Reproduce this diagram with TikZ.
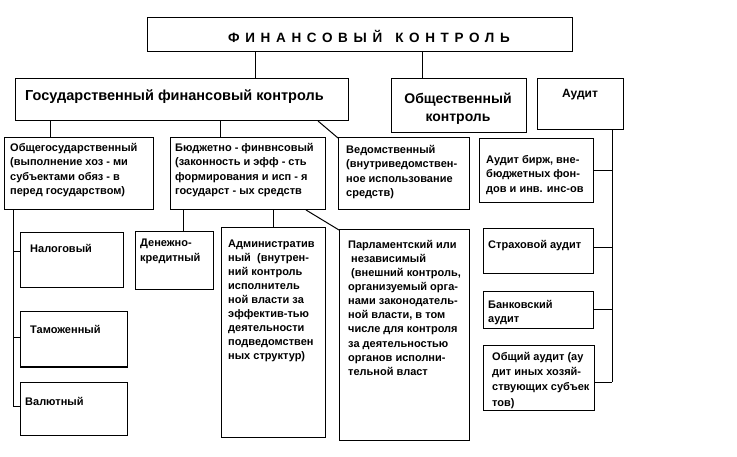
\documentclass[tikz,border=0pt]{standalone}
\usepackage{fontspec}
\setmainfont{Liberation Sans}
\newfontfamily\spacedfont[LetterSpace=42]{Liberation Sans}
\usetikzlibrary{calc}
\newcommand\mkbox[5]{\node[bx,minimum width={#4-#2},minimum height={#5-#3}] (#1) at (#2,#3) {};}
\begin{document}
\begin{tikzpicture}[x=1pt,y=-1pt,
  bx/.style={draw, line width=1pt, inner sep=0pt, outer sep=0pt, anchor=north west},
  tx/.style={inner sep=0pt, anchor=north west, align=left, font=\bfseries\fontsize{11}{14.5}\selectfont},
  ln/.style={line width=1pt}]
\useasboundingbox[fill=white] (0,0) rectangle (737,457);
% boxes
\mkbox{title}{147}{18}{572}{52}
\mkbox{gov}{15}{79}{348}{121}
\mkbox{obsh}{391}{79}{526}{133}
\mkbox{aud}{537}{79}{623}{130}
\mkbox{og}{4}{138}{153}{210}
\mkbox{bud}{170}{138}{325}{210}
\mkbox{ved}{338}{138}{469}{210}
\mkbox{ab}{479}{139}{593}{203}
\mkbox{nal}{20}{233}{123}{288}
\mkbox{tam}{20}{312}{127}{367}
\mkbox{val}{20}{382}{127}{435}
\mkbox{den}{135}{232}{213}{290}
\mkbox{adm}{221}{228}{325}{437}
\mkbox{par}{339}{230}{469}{440}
\mkbox{str}{483}{229}{593}{274}
\mkbox{bank}{483}{292}{593}{329}
\mkbox{ob}{483}{346}{594}{410}
% texts
\node[inner sep=0pt, font=\spacedfont\bfseries\fontsize{13.5}{15}\selectfont] (ttitle) at (369,36) {ФИНАНСОВЫЙ\hspace{13pt}КОНТРОЛЬ};
\node[inner sep=0pt, anchor=west, font=\bfseries\fontsize{14.5}{16}\selectfont] (tgov) at (25,97) {Государственный финансовый контроль};
\node[inner sep=0pt, align=center, font=\bfseries\fontsize{14}{18}\selectfont] (tobsh) at (458,109) {Общественный\\контроль};
\node[inner sep=0pt, font=\bfseries\fontsize{12}{14}\selectfont] (taud) at (580,95) {Аудит};
\node[tx] (tog) at (10,143) {Общегосударственный\\(выполнение хоз - ми\\субъектами обяз - в\\перед государством)};
\node[tx] (tbud) at (175,143) {Бюджетно - финвнсовый\\(законность и эфф - сть\\формирования и исп - я\\государст - ых средств};
\node[tx] (tved) at (346,145) {Ведомственный\\(внутриведомствен-\\ное использование\\средств)};
\node[tx] (tab) at (486,155) {Аудит бирж, вне-\\бюджетных фон-\\дов и инв. инс-ов};
\node[tx] (tnal) at (30,244) {Налоговый};
\node[tx] (ttam) at (30,325) {Таможенный};
\node[tx] (tval) at (25,397) {Валютный};
\node[tx] (tden) at (140,239) {Денежно-\\кредитный};
\node[tx, font=\bfseries\fontsize{11}{14}\selectfont] (tadm) at (228,240) {Административ\\ный\ \ (внутрен-\\ний контроль\\исполнитель\\ной власти за\\эффектив-тью\\деятельности\\подведомствен\\ных структур)};
\node[tx, font=\bfseries\fontsize{11}{14.1}\selectfont] (tpar) at (348,240) {Парламентский или\\\hspace*{3pt}независимый\\\hspace*{3pt}(внешний контроль,\\организуемый орга-\\нами законодатель-\\ной власти, в том\\числе для контроля\\за деятельностью\\органов исполни-\\тельной власт};
\node[tx] (tstr) at (488,240) {Страховой аудит};
\node[tx] (tbank) at (488,300) {Банковский\\аудит};
\node[tx, font=\bfseries\fontsize{11}{15.3}\selectfont] (tob) at (492,352) {Общий аудит (ау\\дит иных хозяй-\\ствующих субъек\\тов)};
% connectors
\draw[ln] (255,0 |- title.south) -- (255,0 |- gov.north);
\draw[ln] (422,0 |- title.south) -- (422,0 |- obsh.north);
\draw[ln] (50,0 |- gov.south) -- (50,0 |- og.north);
\draw[ln] (220,0 |- gov.south) -- (220,0 |- bud.north);
\draw[ln] (318,0 |- gov.south) -- (ved.north west);
\draw[ln] (183,0 |- bud.south) -- (183,0 |- den.north);
\draw[ln] (273,0 |- bud.south) -- (273,0 |- adm.north);
\draw[ln] (306,0 |- bud.south) -- (par.north west);
\coordinate (lbus) at (13,0);
\draw[ln] (lbus |- og.south) -- (13,406);
\draw[ln] (13,252) -- (nal.west |- 0,252);
\draw[ln] (13,338) -- (tam.west |- 0,338);
\draw[ln] (13,406) -- (val.west |- 0,406);
\coordinate (rbus) at (612,0);
\draw[ln] (rbus |- aud.south) -- (612,382);
\draw[ln] (ab.east) -- (ab.east -| rbus);
\draw[ln] (str.east |- 0,248) -- (612,248);
\draw[ln] (bank.east |- 0,310) -- (612,310);
\draw[ln] (ob.east |- 0,382) -- (612,382);
\end{tikzpicture}
\end{document}
